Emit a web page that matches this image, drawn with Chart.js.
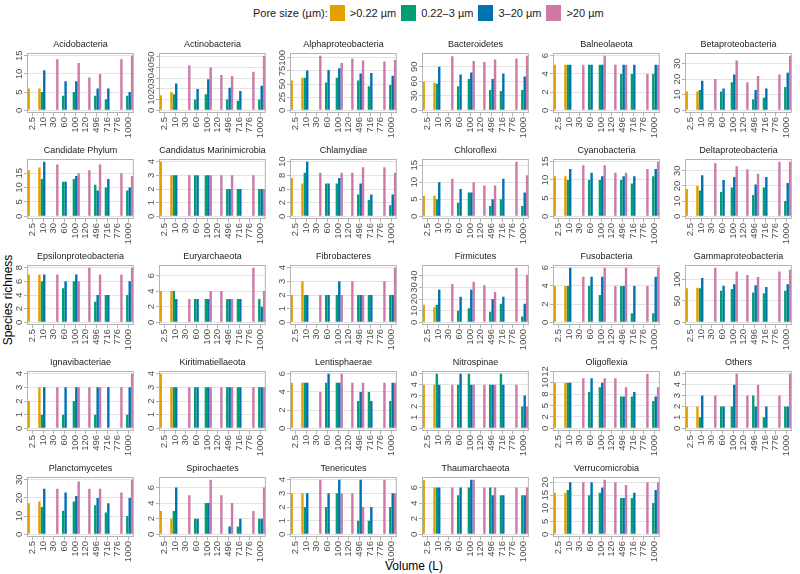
<!DOCTYPE html>
<html>
<head>
<meta charset="utf-8">
<script src="https://cdn.jsdelivr.net/npm/chart.js@4.4.1/dist/chart.umd.min.js"></script>
<style>
  body { margin: 0; background: #fff; font-family: "Liberation Sans", Arial, sans-serif; }
  #wrap { position: relative; width: 800px; height: 574px; overflow: hidden; }
  #wrap canvas { position: absolute; }
  #legend { position: absolute; top: 5px; left: 253px; display: flex; align-items: center; font-size: 11px; color: #1a1a1a; white-space: nowrap; }
  #legend .sw { display: inline-block; width: 15px; height: 16px; margin: 0 5px 0 0; }
  #legend .lab { margin-right: 5px; }
  #ytitle { position: absolute; left: 8px; top: 300px; transform: translate(-50%, -50%) rotate(-90deg); font-size: 12px; white-space: nowrap; color: #000; }
  #xtitle { position: absolute; left: 414px; top: 566px; transform: translate(-50%, -50%); font-size: 12px; white-space: nowrap; color: #000; }
</style>
</head>
<body>
<div id="wrap">
  <div id="legend"></div>
  <div id="ytitle">Species richness</div>
  <div id="xtitle">Volume (L)</div>
</div>
<script>
const volumes = ['2.5', '10', '30', '60', '100', '120', '496', '716', '776', '1000'];
const poreSizes = ['>0.22 µm', '0.22–3 µm', '3–20 µm', '>20 µm'];
const poreColors = ['#E69F00', '#009E73', '#0072B2', '#CC79A7'];

const phyla = [
  'Acidobacteria', 'Actinobacteria', 'Alphaproteobacteria', 'Bacteroidetes', 'Balneolaeota', 'Betaproteobacteria',
  'Candidate Phylum', 'Candidatus Marinimicrobia', 'Chlamydiae', 'Chloroflexi', 'Cyanobacteria', 'Deltaproteobacteria',
  'Epsilonproteobacteria', 'Euryarchaeota', 'Fibrobacteres', 'Firmicutes', 'Fusobacteria', 'Gammaproteobacteria',
  'Ignavibacteriae', 'Kiritimatiellaeota', 'Lentisphaerae', 'Nitrospinae', 'Oligoflexia', 'Others',
  'Planctomycetes', 'Spirochaetes', 'Tenericutes', 'Thaumarchaeota', 'Verrucomicrobia'
];

// y tick spacing of each panel
const yStep = [5, 10, 25, 30, 2, 10, 5, 1, 2.5, 5, 5, 10, 2, 2, 1, 10, 2, 50, 1, 1, 2, 1, 2.5, 1, 10, 2, 1, 2, 5];

// volumes sampled by each pore size
const volsGt022 = ['2.5', '10'];
const volsSmall = ['10', '60', '100', '496', '716', '1000'];
const volsMid = ['10', '60', '100', '496', '716', '1000'];
const volsGt20 = ['30', '100', '120', '496', '776', '1000'];

// species richness, one row per phylum, in the order of the volume lists above
const richGt022 = [
  [6, 6], [14, 17], [57, 62], [59, 57], [5, 5], [12, 12],
  [16, 17], [4, 3], [7, 6], [6, 6], [11, 11], [18, 20],
  [7, 7], [4, 4], [2, 3], [15, 13], [4, 4], [80, 81],
  [2, 3], [4, 3], [5, 5], [4, 4], [10, 10], [2, 2],
  [17, 18], [3, 2], [3, 3], [7, 6], [16, 16]
];
const richSmall = [
  [5, 4, 5, 4, 3, 4], [15, 10, 15, 10, 9, 10], [62, 53, 62, 57, 46, 48], [55, 50, 65, 42, 40, 42], [5, 5, 5, 4, 4, 4], [13, 12, 18, 7, 8, 15],
  [13, 12, 13, 11, 10, 9], [3, 3, 3, 2, 2, 2], [8, 6, 6, 4, 3, 2], [5, 4, 7, 3, 5, 3], [10, 10, 10, 10, 9, 11], [17, 16, 19, 14, 19, 10],
  [6, 5, 6, 3, 4, 4], [4, 3, 3, 3, 3, 3], [2, 2, 2, 2, 2, 2], [15, 10, 12, 9, 16, 5], [4, 4, 3, 4, 1, 1], [80, 74, 78, 70, 68, 74],
  [1, 1, 2, 1, null, 1], [3, 3, 3, 3, 3, 3], [5, 5, 5, 3, 4, 3], [5, 4, 5, 4, 5, 2], [10, 8, 9, 7, 7, 6], [1, 2, 2, 3, 1, 2],
  [15, 13, 18, 16, 12, 10], [3, 2, 4, null, 1, 2], [2, 2, 3, 1, 1, 2], [6, 5, 6, 6, 5, 5], [17, 15, 16, 14, 14, 12]
];
const richMid = [
  [11, 8, 8, 6, 6, 5], [25, 20, 29, 21, 18, 23], [76, 77, 80, 70, 71, 66], [90, 74, 78, 65, 76, 70], [5, 5, 5, 5, 5, 5], [19, 14, 23, 13, 14, 24],
  [19, 12, 14, 9, 13, 10], [3, 3, 3, 2, 2, 2], [10, 6, 7, 6, 4, 4], [10, 8, 7, 5, 11, 7], [13, 12, 11, 11, 11, 13], [27, 24, 26, 21, 26, 22],
  [7, 6, 7, 4, 4, 6], [3, 3, 3, 3, 3, 2], [2, 2, 3, 2, 2, 2], [28, 22, 28, 20, 22, 16], [6, 5, 5, 4, 4, 5], [104, 86, 89, 87, 83, 89],
  [3, 3, 3, 3, 3, 3], [3, 3, 3, 3, 3, 3], [5, 6, 5, 4, 3, 5], [4, 5, 4, 4, 4, 3], [10, 11, 10, 7, 8, 7], [3, 2, 4, 2, 2, 2],
  [25, 23, 21, 20, 17, 20], [6, 2, 4, 1, 2, 2], [3, 3, 4, 4, 2, 3], [6, 6, 7, 5, 5, 5], [20, 20, 18, 14, 16, 17]
];
const richGt20 = [
  [14, 13, 9, 10, 14, 15], [42, 40, 33, 32, 36, 51], [104, 90, 98, 95, 93, 96], [112, 102, 100, 105, 107, 113], [5, 6, 5, 5, 4, 5], [20, 32, 18, 22, 23, 35],
  [18, 15, 16, 18, 15, 14], [3, 3, 3, 3, 3, 2], [8, 8, 8, 9, 9, 8], [11, 10, 9, 9, 16, 12], [14, 14, 12, 12, 13, 15], [35, 33, 31, 28, 36, 36],
  [7, 6, 8, 7, 7, 8], [3, 4, 4, 3, 7, 4], [2, 2, 3, 2, 3, 4], [33, 35, 32, 26, 47, 41], [5, 6, 4, 6, 4, 6], [128, 119, 111, 106, 119, 123],
  [3, 3, 3, 3, 3, 4], [3, 3, 3, 3, 3, 3], [4, 6, 5, 5, 5, 5], [4, 4, 4, 4, 4, 2], [11, 11, 11, 9, 12, 9], [3, 5, 3, 4, 3, 5],
  [25, 29, 25, 25, 23, 30], [5, 7, 5, 4, 3, 6], [4, 3, 3, 2, 4, 3], [6, 7, 6, 6, 6, 6], [20, 21, 20, 19, 20, 20]
];

const series = [
  { vols: volsGt022, rows: richGt022 },
  { vols: volsSmall, rows: richSmall },
  { vols: volsMid, rows: richMid },
  { vols: volsGt20, rows: richGt20 }
];

const FONT = '"Liberation Sans", Arial, sans-serif';
const wrap = document.getElementById('wrap');

// legend
const legend = document.getElementById('legend');
legend.innerHTML = '<span class="lab" style="margin-right:2px">Pore size (µm):</span>' +
  poreSizes.map((p, k) => '<span class="sw" style="background:' + poreColors[k] + '"></span><span class="lab">' + p + '</span>').join('');

// R style label rounding (half to even)
function fmt(v) {
  const f = Math.floor(v), d = v - f;
  const r = d > 0.5 ? f + 1 : d < 0.5 ? f : (f % 2 === 0 ? f : f + 1);
  return String(r);
}

const panelDeco = {
  id: 'panelDeco',
  afterDraw(chart, args, opts) {
    const { ctx, chartArea: a } = chart;
    const y = chart.scales.y;
    ctx.save();
    ctx.strokeStyle = '#b3b3b3';
    ctx.lineWidth = 1;
    ctx.strokeRect(a.left + 0.5, a.top + 0.5, a.width - 1, a.height - 1);
    ctx.fillStyle = '#4d4d4d';
    ctx.font = '9.5px ' + FONT;
    ctx.textAlign = 'center';
    ctx.textBaseline = 'bottom';
    y.ticks.forEach(t => {
      const py = y.getPixelForValue(t.value);
      ctx.save();
      ctx.translate(a.left - 3, py);
      ctx.rotate(-Math.PI / 2);
      ctx.fillText(fmt(t.value), 0, 0);
      ctx.restore();
    });
    ctx.fillStyle = '#1a1a1a';
    ctx.font = '9px ' + FONT;
    ctx.textBaseline = 'middle';
    ctx.fillText(opts.title, (a.left + a.right) / 2, 8);
    ctx.restore();
  }
};

phyla.forEach((name, i) => {
  const col = i % 6, row = Math.floor(i / 6);
  const plotLeft = 27 + col * 131.6;
  const plotTop = 53 + row * 106;
  const cv = document.createElement('canvas');
  cv.width = 136;
  cv.height = 106;
  cv.style.left = Math.round(plotLeft - 22) + 'px';
  cv.style.top = (plotTop - 16) + 'px';
  wrap.appendChild(cv);

  const datasets = series.map((s, k) => ({
    label: poreSizes[k],
    data: volumes.map(v => {
      const j = s.vols.indexOf(v);
      return j < 0 ? null : s.rows[i][j];
    }),
    backgroundColor: poreColors[k],
    categoryPercentage: 0.9,
    barPercentage: 1
  }));
  let top = 0;
  datasets.forEach(d => d.data.forEach(v => { if (v != null && v > top) top = v; }));
  const step = yStep[i];

  new Chart(cv, {
    type: 'bar',
    data: { labels: volumes, datasets },
    options: {
      responsive: false,
      animation: false,
      events: [],
      layout: { padding: { top: 16, right: 2, left: 0, bottom: 0 } },
      plugins: {
        legend: { display: false },
        tooltip: { enabled: false },
        panelDeco: { title: name }
      },
      scales: {
        x: {
          grid: { display: true, drawOnChartArea: false, drawTicks: true, tickLength: 3, color: '#b3b3b3', offset: false },
          border: { display: false },
          ticks: { minRotation: 90, maxRotation: 90, autoSkip: false, padding: 1, color: '#4d4d4d', font: { size: 9.5, family: FONT } },
          afterFit: s => { s.height = 30; }
        },
        y: {
          min: -0.05 * top,
          max: 1.05 * top,
          grid: { color: '#e3e3e3', drawTicks: true, tickLength: 3, tickColor: '#b3b3b3' },
          border: { display: false },
          ticks: { display: false },
          afterBuildTicks: s => {
            const t = [];
            for (let v = 0; v <= s.max + 1e-9; v += step) t.push({ value: v });
            s.ticks = t;
          },
          afterFit: s => { s.width = 22; }
        }
      }
    },
    plugins: [panelDeco]
  });
});
</script>
</body>
</html>
